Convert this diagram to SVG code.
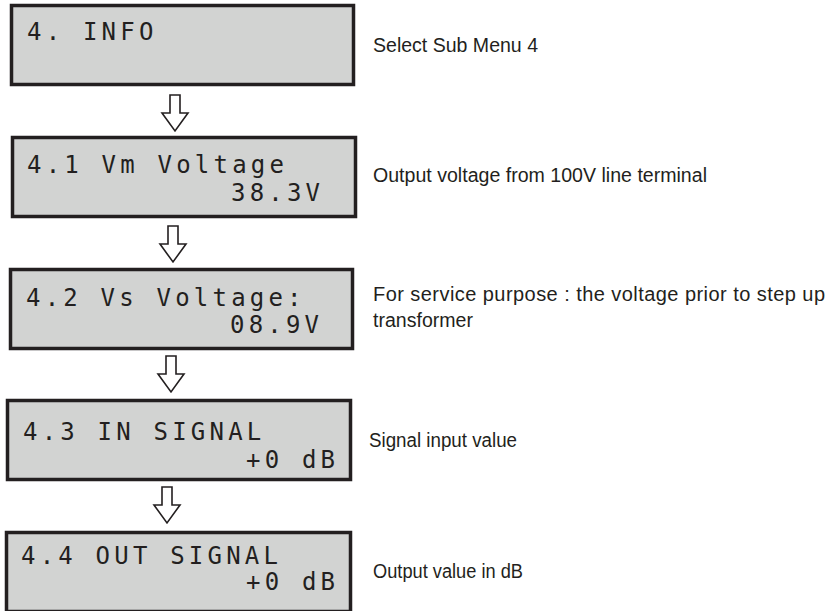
<svg xmlns="http://www.w3.org/2000/svg" width="838" height="611" viewBox="0 0 838 611">
<style>
.lcd{fill:#d2d3d2;stroke:#231f20;stroke-width:3.5}
.lt{font-family:"DejaVu Sans Mono","Liberation Mono",monospace;font-size:24px;letter-spacing:4.2px;fill:#231f20}
.dt{font-family:"Liberation Sans",Arial,sans-serif;font-size:20px;fill:#231f20}
.arr{fill:#fff;stroke:#231f20;stroke-width:1.6;stroke-linejoin:miter}
</style>
<defs>
<path id="down" d="M-5,0 H5 V18 H13 L0,36 L-13,18 H-5 Z"/>
</defs>
<rect width="838" height="611" fill="#fff"/>
<g id="connectors">
<use href="#down" class="arr" x="175" y="95"/>
<use href="#down" class="arr" x="173" y="226"/>
<use href="#down" class="arr" x="171" y="356"/>
<use href="#down" class="arr" x="167" y="487"/>
</g>
<g id="n1">
<rect class="lcd" x="11.5" y="5.5" width="342" height="79"/>
<text class="lt" x="27" y="40">4. INFO</text>
</g>
<g id="n2">
<rect class="lcd" x="12.5" y="137.5" width="343" height="79"/>
<text class="lt" x="27" y="173">4.1 Vm Voltage</text>
<text class="lt" x="231" y="201">38.3V</text>
</g>
<g id="n3">
<rect class="lcd" x="10.5" y="269.5" width="342" height="79"/>
<text class="lt" x="26" y="306">4.2 Vs Voltage:</text>
<text class="lt" x="230" y="333">08.9V</text>
</g>
<g id="n4">
<rect class="lcd" x="7.5" y="400.5" width="343" height="79"/>
<text class="lt" x="23" y="440">4.3 IN SIGNAL</text>
<text class="lt" x="246" y="468">+0 dB</text>
</g>
<g id="n5">
<rect class="lcd" x="6.5" y="532.5" width="344" height="79"/>
<text class="lt" x="21" y="564">4.4 OUT SIGNAL</text>
<text class="lt" x="246" y="590">+0 dB</text>
</g>
<g id="descriptions">
<text class="dt" x="373" y="52" textLength="165" lengthAdjust="spacingAndGlyphs">Select Sub Menu 4</text>
<text class="dt" x="373" y="182" textLength="334" lengthAdjust="spacingAndGlyphs">Output voltage from 100V line terminal</text>
<text class="dt" x="373" y="301" textLength="452" lengthAdjust="spacing">For service purpose : the voltage prior to step up</text>
<text class="dt" x="373" y="327" textLength="100" lengthAdjust="spacingAndGlyphs">transformer</text>
<text class="dt" x="369" y="447" textLength="148" lengthAdjust="spacingAndGlyphs">Signal input value</text>
<text class="dt" x="373" y="578" textLength="150" lengthAdjust="spacingAndGlyphs">Output value in dB</text>
</g>
</svg>
